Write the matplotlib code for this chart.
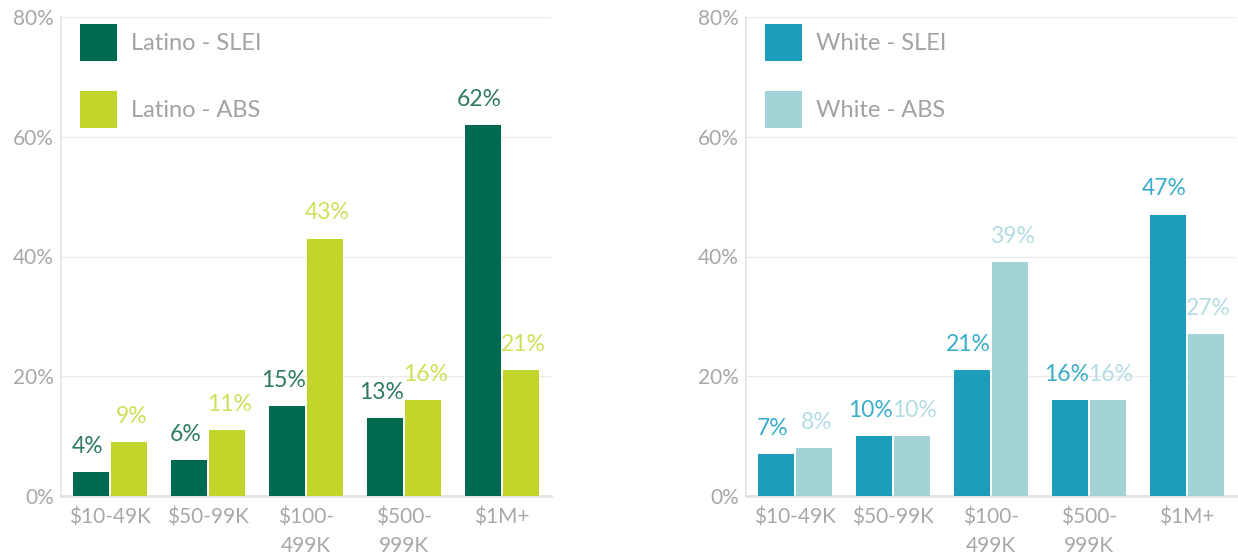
import matplotlib
matplotlib.use("Agg")
import matplotlib.pyplot as plt
from matplotlib.patches import Patch
import numpy as np

plt.rcParams['font.family'] = ['Lato', 'DejaVu Sans']
plt.rcParams['text.parse_math'] = False

categories = ["$10-49K", "$50-99K", "$100-\n499K", "$500-\n999K", "$1M+"]
latino_slei = [4, 6, 15, 13, 62]
latino_abs = [9, 11, 43, 16, 21]
white_slei = [7, 10, 21, 16, 47]
white_abs = [8, 10, 39, 16, 27]
y_ticks = [0, 20, 40, 60, 80]

W, H = 1238, 557
fig = plt.figure(figsize=(W / 100, H / 100), dpi=100)

tick_grey = '#a8a8a8'


def draw_panel(ax, slei, abs_, names, bar_colors, text_colors):
    x = np.arange(len(categories))
    bw = 0.37
    off = 0.195
    b1 = ax.bar(x - off, slei, bw, color=bar_colors[0], zorder=3)
    b2 = ax.bar(x + off, abs_, bw, color=bar_colors[1], zorder=3)
    for bars, vals, col, dx in ((b1, slei, text_colors[0], -2.5), (b2, abs_, text_colors[1], 1.5)):
        for b, v in zip(bars, vals):
            ax.annotate(f"{v}%", (b.get_x() + b.get_width() / 2, v),
                        xytext=(dx, 18.5), textcoords='offset points',
                        ha='center', va='center', fontsize=16.5, color=col)
    ax.set_xlim(-0.5, len(categories) - 0.5)
    ax.set_ylim(0, 80)
    ax.set_yticks(y_ticks)
    ax.set_yticklabels([f"{t}%" for t in y_ticks])
    ax.set_xticks(x)
    ax.set_xticklabels(categories, linespacing=1.55)
    ax.tick_params(axis='both', length=0, labelsize=15, labelcolor=tick_grey)
    ax.tick_params(axis='x', pad=8)
    ax.tick_params(axis='y', pad=5)
    ax.grid(axis='y', color='#ebebeb', lw=1, zorder=0)
    for s in ('top', 'right'):
        ax.spines[s].set_visible(False)
    ax.spines['left'].set_color('#e4e4df')
    ax.spines['left'].set_linewidth(1.2)
    ax.spines['bottom'].set_color('#e2e2e2')
    ax.spines['bottom'].set_linewidth(2)
    handles = [Patch(facecolor=bar_colors[0]), Patch(facecolor=bar_colors[1])]
    leg = ax.legend(handles, names, loc='upper left',
                    bbox_to_anchor=(19 / 490, 1 - 7 / 479), frameon=False,
                    borderpad=0, borderaxespad=0, fontsize=17,
                    handlelength=1.57, handleheight=2.03, handletextpad=0.6,
                    labelspacing=1.27)
    for t in leg.get_texts():
        t.set_color('#a3a3a3')


ax1 = fig.add_axes([61 / W, (H - 496) / H, 490 / W, 479 / H])
draw_panel(ax1, latino_slei, latino_abs, ["Latino - SLEI", "Latino - ABS"],
           ('#006a4e', '#c2d52a'), ('#2f7b62', '#d0df5a'))

ax2 = fig.add_axes([746 / W, (H - 496) / H, 490 / W, 479 / H])
draw_panel(ax2, white_slei, white_abs, ["White - SLEI", "White - ABS"],
           ('#1c9dbb', '#a3d2d7'), ('#3aaecb', '#b3dde2'))

fig.savefig("out.png", dpi=100)
